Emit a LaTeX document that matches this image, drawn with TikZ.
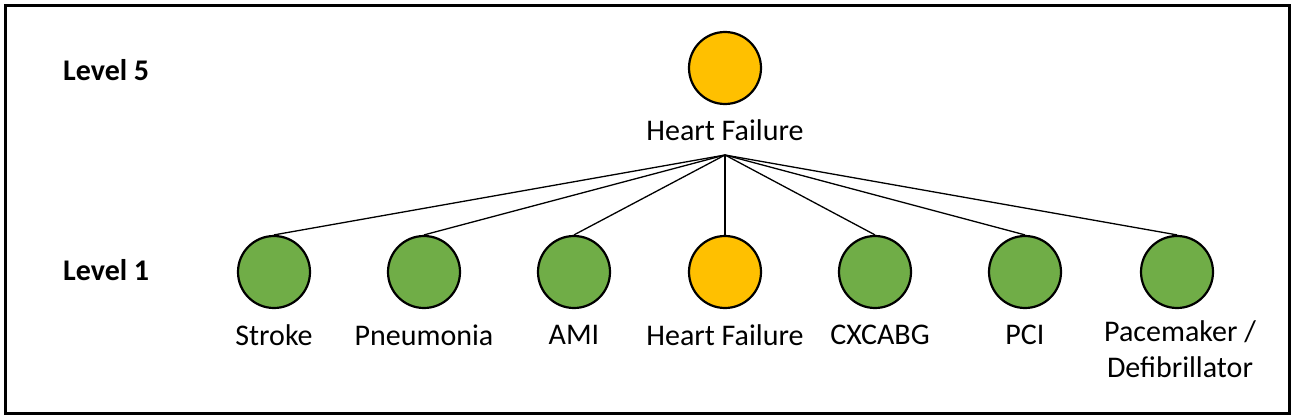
\documentclass[tikz,border=0pt]{standalone}
\usepackage{fontspec}
\setmainfont{Carlito}
\definecolor{hfyellow}{HTML}{FFC000}
\definecolor{leafgreen}{HTML}{70AD47}
\begin{document}
\begin{tikzpicture}[x=1pt,y=-1pt,
  dot/.style={circle,draw=black,line width=2.2pt,minimum size=72pt,inner sep=0pt},
  ydot/.style={dot,fill=hfyellow},
  gdot/.style={dot,fill=leafgreen},
  lab/.style={font=\fontsize{30}{36}\selectfont,inner sep=0pt,align=center},
  lvl/.style={font=\fontsize{30}{36}\selectfont\bfseries,inner sep=0pt,anchor=west},
  conn/.style={line width=1.3pt}]
\useasboundingbox (0,0) rectangle (1295,420);
\node[draw=black,line width=3pt,minimum width=1284pt,minimum height=408pt,inner sep=0pt] (frame) at (647.5,209.5) {};
\node[lvl] (l5) at (63,70) {Level 5};
\node[lvl] (l1) at (63,270) {Level 1};
\node[ydot] (top) at (725,68) {};
\node[lab] (toplab) at (725,130) {Heart Failure};
\coordinate (hub) at (725,155);
\node[gdot] (n1) at (274,272) {};
\node[gdot] (n2) at (424,272) {};
\node[gdot] (n3) at (574,272) {};
\node[ydot] (n4) at (725,272) {};
\node[gdot] (n5) at (875,272) {};
\node[gdot] (n6) at (1025,272) {};
\node[gdot] (n7) at (1177,272) {};
\node[lab] (t1) at (274,335) {Stroke};
\node[lab] (t2) at (424,335) {Pneumonia};
\node[lab] (t3) at (574,335) {AMI};
\node[lab] (t4) at (725,335) {Heart Failure};
\node[lab] (t5) at (880,335) {CXCABG};
\node[lab] (t6) at (1025,335) {PCI};
\node[lab,anchor=north] (t7) at (1180,320) {Pacemaker /\\Defibrillator};
\foreach \n in {n1,n2,n3,n4,n5,n6,n7}
  \draw[conn] (hub) -- (\n.north);
\end{tikzpicture}
\end{document}
